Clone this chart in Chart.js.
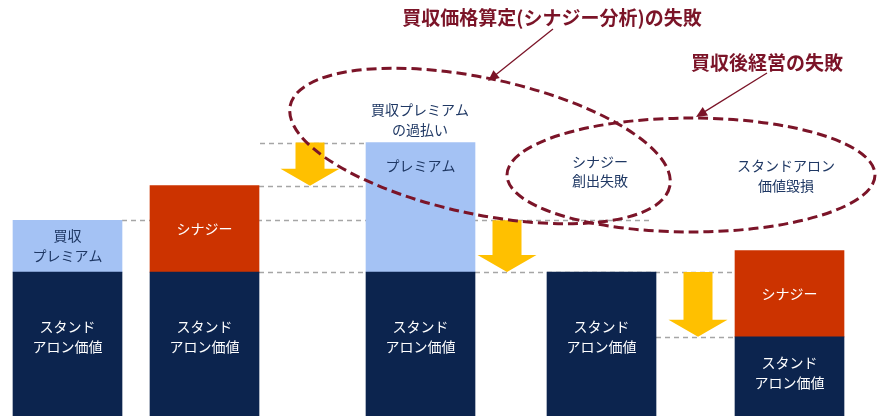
<!DOCTYPE html>
<html>
<head>
<meta charset="utf-8">
<script src="https://cdn.jsdelivr.net/npm/chart.js@4/dist/chart.umd.min.js"></script>
<style>
  html, body { margin: 0; padding: 0; background: #fff; }
  #wrap { width: 886px; height: 416px; }
</style>
</head>
<body>
<div id="wrap"><canvas id="chart" width="886" height="416"></canvas></div>
<script>
// values (standalone value = 100)
const categories = ['買収前', 'シナジー期待', '買収価格', '買収後(シナジー未達)', '買収後(価値毀損)'];
const standalone = [100, 100, 100, 100, 55];
const premium    = [36, 0, 90, 0, 0];
const synergy    = [0, 60, 0, 0, 60];

const standaloneText = ['スタンド\nアロン価値', 'スタンド\nアロン価値', 'スタンド\nアロン価値', 'スタンド\nアロン価値', 'スタンド\nアロン価値'];
const premiumText    = ['買収\nプレミアム', '', 'プレミアム', '', ''];
const synergyText    = ['', 'シナジー', '', '', 'シナジー'];

// layout (x in page units, 0..886)
const slotX = [67.5, 204.5, 420.5, 601.5, 789.5];
const arrowX = [310, 507, 698];
const FONT = '"Noto Sans CJK JP", "Noto Sans", sans-serif';
const NAVY = '#0c244e', LIGHT = '#a4c2f4', RED = '#cc3300', GOLD = '#ffc000', MAROON = '#7b1428', TEXTNAVY = '#1f3864';

const total = standalone.map((v, i) => v + premium[i] + synergy[i]);

// yellow arrows: [from, to] value levels
const drops = [
  [total[2], total[1]],
  [total[0], standalone[3]],
  [standalone[3], standalone[4]]
];
// grey guide lines: value level, x range
const guides = [
  { v: total[2], x0: 260, x1: 366 },
  { v: total[1], x0: 259, x1: 366 },
  { v: total[0], x0: 122, x1: 650 },
  { v: standalone[3], x0: 259, x1: 735 },
  { v: standalone[4], x0: 656, x1: 735 }
];

const pts = arr => arr.map((v, i) => ({ x: slotX[i], y: v || null }));

function drawLines(ctx, lines, x, y, lh) {
  const n = lines.length;
  lines.forEach((s, k) => ctx.fillText(s, x, y + (k - (n - 1) / 2) * lh));
}

const decor = {
  id: 'decor',
  beforeDatasetsDraw(chart) {
    const { ctx, scales: { x, y } } = chart;
    ctx.save();
    ctx.strokeStyle = '#a6a6a6';
    ctx.lineWidth = 1.5;
    ctx.setLineDash([5, 4]);
    guides.forEach(g => {
      const py = Math.round(y.getPixelForValue(g.v)) + 0.5;
      ctx.beginPath();
      ctx.moveTo(x.getPixelForValue(g.x0), py);
      ctx.lineTo(x.getPixelForValue(g.x1), py);
      ctx.stroke();
    });
    ctx.restore();
  },
  afterDatasetsDraw(chart) {
    const { ctx, scales: { x, y }, chartArea } = chart;
    ctx.save();

    // yellow arrows
    ctx.fillStyle = GOLD;
    drops.forEach(([a, b], i) => {
      const cx = x.getPixelForValue(arrowX[i]);
      const top = y.getPixelForValue(a), tip = y.getPixelForValue(b);
      const head = 17;
      ctx.beginPath();
      ctx.moveTo(cx - 14.5, top);
      ctx.lineTo(cx + 14.5, top);
      ctx.lineTo(cx + 14.5, tip - head);
      ctx.lineTo(cx + 29.5, tip - head);
      ctx.lineTo(cx, tip);
      ctx.lineTo(cx - 29.5, tip - head);
      ctx.lineTo(cx - 14.5, tip - head);
      ctx.closePath();
      ctx.fill();
    });

    // labels inside bars
    ctx.font = '14px ' + FONT;
    ctx.textAlign = 'center';
    ctx.textBaseline = 'middle';
    const texts = [standaloneText, premiumText, synergyText];
    const colors = ['#ffffff', TEXTNAVY, '#ffffff'];
    chart.data.datasets.forEach((ds, di) => {
      chart.getDatasetMeta(di).data.forEach((el, i) => {
        const t = texts[di][i];
        if (!t) return;
        let cy;
        if (di === 0) cy = y.getPixelForValue(standalone[i] * 0.55);
        else if (di === 1 && i === 2) cy = el.y + 23;
        else cy = (el.y + Math.min(el.base, chartArea.bottom)) / 2;
        ctx.fillStyle = colors[di];
        drawLines(ctx, t.split('\n'), el.x, cy, 20);
      });
    });

    // free texts
    ctx.fillStyle = TEXTNAVY;
    drawLines(ctx, ['買収プレミアム', 'の過払い'], 420, 120, 20);
    drawLines(ctx, ['シナジー', '創出失敗'], 600, 171, 19);
    drawLines(ctx, ['スタンドアロン', '価値毀損'], 786, 176, 20);

    // dashed ellipses
    ctx.strokeStyle = MAROON;
    ctx.lineWidth = 3;
    ctx.setLineDash([10, 5]);
    ctx.beginPath();
    ctx.ellipse(480, 146, 194, 68, 12 * Math.PI / 180, 0, Math.PI * 2);
    ctx.stroke();
    ctx.beginPath();
    ctx.ellipse(691, 175, 184, 57, 0, 0, Math.PI * 2);
    ctx.stroke();

    // pointer arrows
    ctx.setLineDash([]);
    ctx.lineWidth = 1.3;
    ctx.fillStyle = MAROON;
    [[553, 29, 488, 81], [767, 73, 696, 117]].forEach(([x0, y0, x1, y1]) => {
      const ang = Math.atan2(y1 - y0, x1 - x0);
      ctx.beginPath();
      ctx.moveTo(x0, y0);
      ctx.lineTo(x1 - 6 * Math.cos(ang), y1 - 6 * Math.sin(ang));
      ctx.stroke();
      ctx.beginPath();
      ctx.moveTo(x1, y1);
      ctx.lineTo(x1 - 11 * Math.cos(ang) + 5 * Math.sin(ang), y1 - 11 * Math.sin(ang) - 5 * Math.cos(ang));
      ctx.lineTo(x1 - 11 * Math.cos(ang) - 5 * Math.sin(ang), y1 - 11 * Math.sin(ang) + 5 * Math.cos(ang));
      ctx.closePath();
      ctx.fill();
    });

    // titles
    ctx.font = 'bold 19px ' + FONT;
    ctx.fillStyle = MAROON;
    ctx.fillText('買収価格算定(シナジー分析)の失敗', 552, 18);
    ctx.fillText('買収後経営の失敗', 767, 63);
    ctx.restore();
  }
};

new Chart(document.getElementById('chart'), {
  type: 'bar',
  data: {
    labels: categories,
    datasets: [
      { label: 'スタンドアロン価値', data: pts(standalone), backgroundColor: NAVY },
      { label: '買収プレミアム', data: pts(premium), backgroundColor: LIGHT },
      { label: 'シナジー', data: pts(synergy), backgroundColor: RED }
    ]
  },
  options: {
    responsive: false,
    animation: false,
    layout: { padding: 0 },
    datasets: { bar: { barThickness: 109, borderWidth: 0 } },
    scales: {
      x: { type: 'linear', min: 0, max: 886, stacked: true, offset: false, display: false },
      y: { min: 0, max: 289, stacked: true, display: false }
    },
    plugins: { legend: { display: false }, tooltip: { enabled: false } }
  },
  plugins: [decor]
});
</script>
</body>
</html>
